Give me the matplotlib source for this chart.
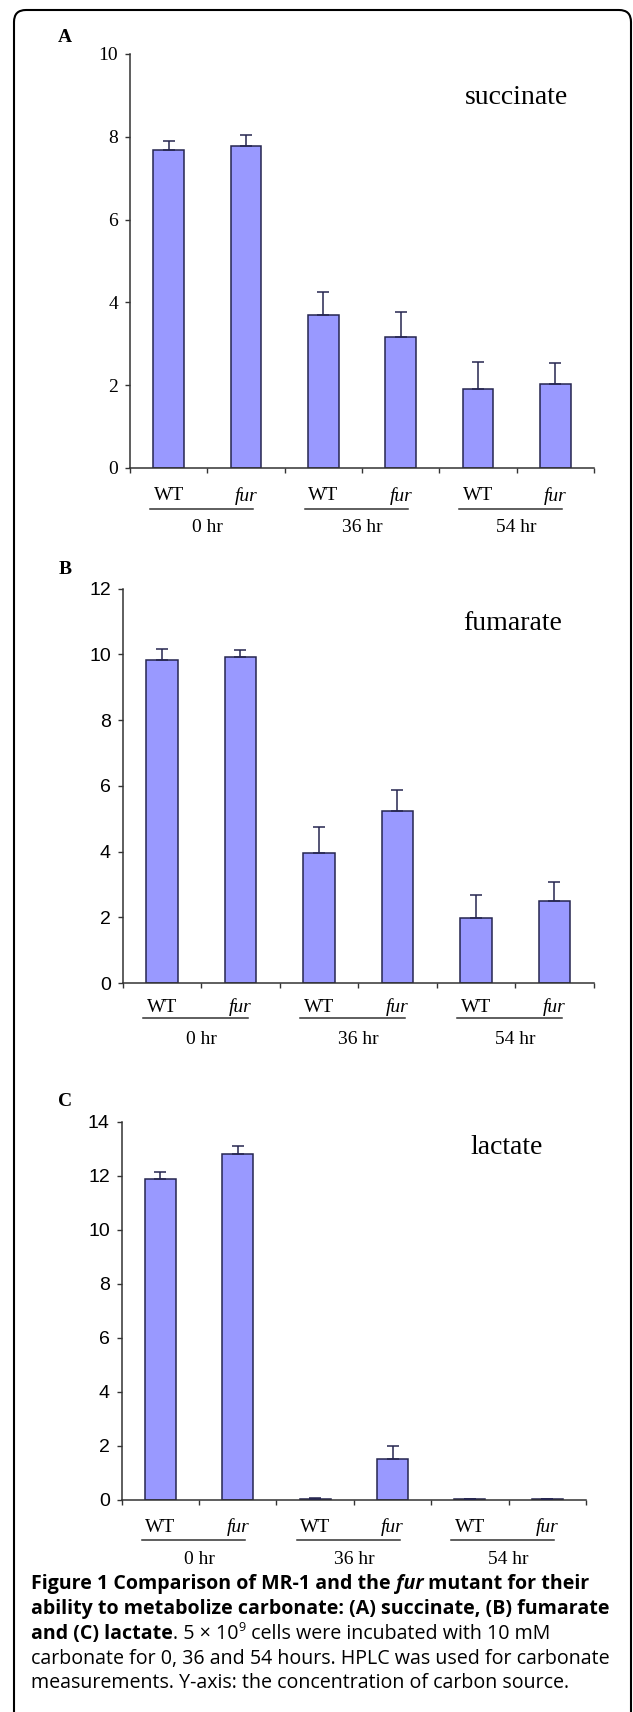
import numpy as np
import matplotlib.pyplot as plt
from matplotlib.patches import FancyBboxPatch
from matplotlib.transforms import offset_copy, IdentityTransform

# data
strains = ["WT", "fur", "WT", "fur", "WT", "fur"]
times = ["0 hr", "36 hr", "54 hr"]

succinate = [7.68, 7.78, 3.70, 3.16, 1.90, 2.04]
succinate_err = [0.23, 0.26, 0.56, 0.60, 0.65, 0.49]
fumarate = [9.83, 9.93, 3.97, 5.24, 1.98, 2.51]
fumarate_err = [0.35, 0.21, 0.77, 0.64, 0.70, 0.56]
lactate = [11.9, 12.8, 0.05, 1.51, 0.02, 0.03]
lactate_err = [0.25, 0.30, 0.03, 0.48, 0.01, 0.01]

W, H = 633, 1712
fig = plt.figure(figsize=(W / 100, H / 100), dpi=100)

bar_color = "#9999ff"
edge_color = "#262650"
axis_color = "#333333"


def px_rect(x0, y0, x1, y1):
    # pixel box (top-left origin) -> figure fraction rect
    return [x0 / W, 1 - y1 / H, (x1 - x0) / W, (y1 - y0) / H]


panels = [
    dict(letter="A", name="succinate", vals=succinate, err=succinate_err,
         ymax=10, box=(130, 54, 594, 468), tfont="Liberation Serif",
         letter_xy=(65, 38), name_xy=(516, 97), offs=(28, 41, 60)),
    dict(letter="B", name="fumarate", vals=fumarate, err=fumarate_err,
         ymax=12, box=(122.7, 588.7, 593.7, 983), tfont="Liberation Sans",
         letter_xy=(65, 570), name_xy=(513, 623), offs=(24, 35, 56)),
    dict(letter="C", name="lactate", vals=lactate, err=lactate_err,
         ymax=14, box=(121.7, 1122, 586, 1500), tfont="Liberation Sans",
         letter_xy=(65, 1102), name_xy=(507, 1147), offs=(27, 40, 59)),
]

x = np.arange(len(strains))

for p in panels:
    ax = fig.add_axes(px_rect(*p["box"]))
    ax.bar(x, p["vals"], width=0.4, color=bar_color, edgecolor=edge_color,
           linewidth=1.1, zorder=2)
    ax.errorbar(x, p["vals"], yerr=[np.zeros(len(x)), p["err"]], fmt="none",
                ecolor=edge_color, elinewidth=1.1, capsize=4, capthick=1.1,
                zorder=3)
    ax.set_xlim(-0.5, 5.5)
    ax.set_ylim(0, p["ymax"])
    ax.set_yticks(np.arange(0, p["ymax"] + 1, 2))
    ax.set_yticklabels([str(v) for v in range(0, p["ymax"] + 1, 2)],
                       fontsize=14, family=p["tfont"])
    ax.set_xticks(np.arange(-0.5, 6, 1))
    ax.set_xticklabels([])
    ax.tick_params(axis="both", direction="out", length=3.6, width=1,
                   color=axis_color)
    ax.tick_params(axis="y", pad=5)
    for s in ["top", "right"]:
        ax.spines[s].set_visible(False)
    for s in ["left", "bottom"]:
        ax.spines[s].set_color(axis_color)
        ax.spines[s].set_linewidth(1.1)

    off_lab, off_line, off_time = p["offs"]
    base = ax.get_xaxis_transform()
    t_lab = offset_copy(base, fig=fig, x=0, y=-off_lab, units="dots")
    t_line = offset_copy(base, fig=fig, x=0, y=-off_line, units="dots")
    t_time = offset_copy(base, fig=fig, x=0, y=-off_time, units="dots")
    for i, s in enumerate(strains):
        ax.text(i, 0, s, transform=t_lab, ha="center", va="center",
                family="Liberation Serif", fontsize=14,
                style="italic" if s == "fur" else "normal")
    for g, tm in enumerate(times):
        c = 2 * g
        ax.plot([c - 0.24, c + 1.09], [0, 0], transform=t_line,
                color=axis_color, lw=1.1, clip_on=False)
        ax.text(c + 0.5, 0, tm, transform=t_time, ha="center", va="center",
                family="Liberation Serif", fontsize=14)

    lx, ly = p["letter_xy"]
    fig.text(lx / W, 1 - ly / H, p["letter"], ha="center", va="center",
             family="Liberation Serif", weight="bold", fontsize=14)
    nx, ny = p["name_xy"]
    fig.text(nx / W, 1 - ny / H, p["name"], ha="center", va="center",
             family="Liberation Serif", fontsize=20)

# rounded frame
frame = FancyBboxPatch((14, -30), 617, H - 10 + 30,
                       boxstyle="round,pad=0,rounding_size=12",
                       transform=IdentityTransform(), fill=False,
                       lw=1.5, ec="black")
fig.add_artist(frame)

# caption, drawn piece by piece
cap_font = "Open Sans"
cap_size = 14.1
renderer = fig.canvas.get_renderer()


def rich_line(x0, y_top, pieces):
    xp = x0
    for txt, kw in pieces:
        dy = kw.pop("dy", 0)
        t = fig.text(xp, H - y_top + dy, txt, transform=IdentityTransform(),
                     va="baseline", ha="left", family=cap_font, **kw)
        bb = t.get_window_extent(renderer)
        xp = bb.x1


B = dict(weight="bold", fontsize=cap_size)
BI = dict(weight="bold", style="italic", fontsize=cap_size)
N = dict(fontsize=cap_size)

rich_line(31, 1589, [("Figure 1 Comparison of MR-1 and the", dict(B)),
                     (" fur", dict(BI)),
                     (" mutant for their", dict(B))])
rich_line(31, 1614, [("ability to metabolize carbonate: (A) succinate, (B) fumarate", dict(B))])
rich_line(31, 1639, [("and (C) lactate", dict(B)),
                     (". 5 \u00d7 10", dict(N)),
                     ("9", dict(fontsize=9, dy=8)),
                     (" cells were incubated with 10 mM", dict(N))])
rich_line(31, 1664, [("carbonate for 0, 36 and 54 hours. HPLC was used for carbonate", dict(N))])
rich_line(31, 1688, [("measurements. Y-axis: the concentration of carbon source.", dict(N))])

fig.savefig("out.png", dpi=100)
